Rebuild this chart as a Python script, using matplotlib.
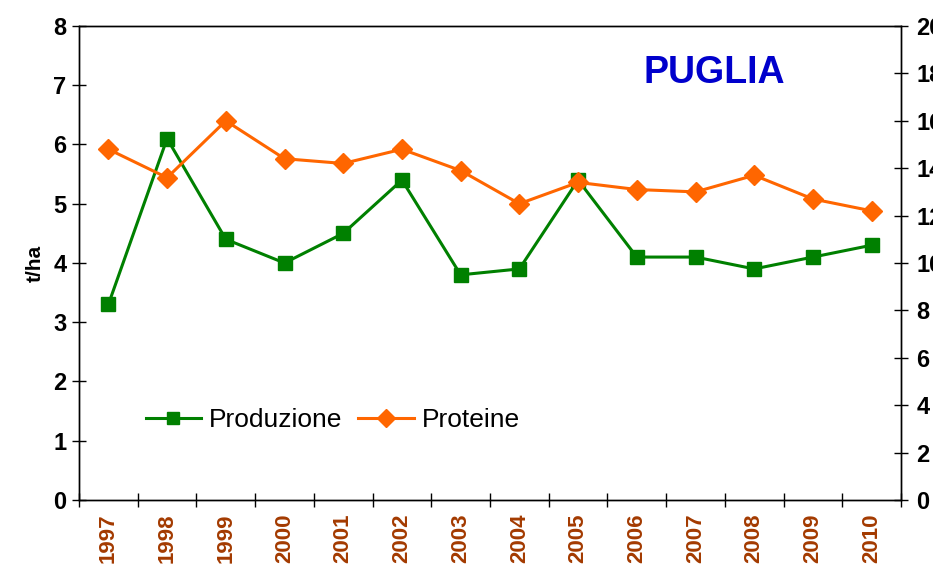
import numpy as np
import matplotlib
matplotlib.use("Agg")
import matplotlib.pyplot as plt

plt.rcParams['font.family'] = ['Liberation Sans', 'DejaVu Sans']

# dati
anni = ["1997", "1998", "1999", "2000", "2001", "2002", "2003",
        "2004", "2005", "2006", "2007", "2008", "2009", "2010"]
produzione = [3.3, 6.1, 4.4, 4.0, 4.5, 5.4, 3.8, 3.9, 5.4, 4.1, 4.1, 3.9, 4.1, 4.3]
proteine = [14.8, 13.6, 16.0, 14.4, 14.2, 14.8, 13.9, 12.5, 13.4, 13.1, 13.0, 13.7, 12.7, 12.2]

verde = "#008000"
arancio = "#FF6600"
marrone = "#A33A00"

fig = plt.figure(figsize=(9.33, 5.69), dpi=100)
ax1 = fig.add_axes([0.0847, 0.1213, 0.881, 0.833])
ax2 = ax1.twinx()

x = np.arange(len(anni))
l1, = ax1.plot(x, produzione, color=verde, lw=2.2, marker="s", ms=10, label="Produzione")
l2, = ax2.plot(x, proteine, color=arancio, lw=2.2, marker="D", ms=10, label="Proteine")

ax1.set_xlim(-0.5, len(anni) - 0.5)
ax1.set_ylim(0, 8)
ax2.set_ylim(0, 20)
ax1.set_yticks(range(0, 9))
ax2.set_yticks(range(0, 21, 2))

# tacche tra le categorie, etichette al centro
ax1.set_xticks(np.arange(-0.5, len(anni), 1.0))
ax1.set_xticklabels([])
ax1.set_xticks(x, minor=True)
ax1.set_xticklabels(anni, minor=True, rotation=90, color=marrone,
                    fontsize=16, fontweight="bold")
ax1.tick_params(axis="x", which="minor", length=0, pad=10)
ax1.tick_params(axis="x", which="major", direction="inout", length=10, width=1)

ax1.tick_params(axis="y", direction="inout", length=10, width=1, labelsize=17, pad=4)
ax2.tick_params(axis="y", direction="inout", length=10, width=1, labelsize=17, pad=6)
for lab in ax1.get_yticklabels() + ax2.get_yticklabels():
    lab.set_fontweight("bold")

ax1.set_ylabel("t/ha", fontsize=15, fontweight="bold", labelpad=6)

for ax in (ax1, ax2):
    for s in ax.spines.values():
        s.set_linewidth(1)
        s.set_color("black")

fig.text(0.766, 0.872, "PUGLIA", color="#0000CC", fontsize=27,
         fontweight="bold", ha="center", va="center")

ax2.legend(handles=[l1, l2], loc="center left", bbox_to_anchor=(0.156, 0.262),
           bbox_transform=fig.transFigure, ncol=2, frameon=False, fontsize=19,
           handlelength=2.1, handletextpad=0.3, columnspacing=0.6,
           markerscale=0.9, borderpad=0.0, borderaxespad=0.0)

fig.savefig("out.png", dpi=100)
